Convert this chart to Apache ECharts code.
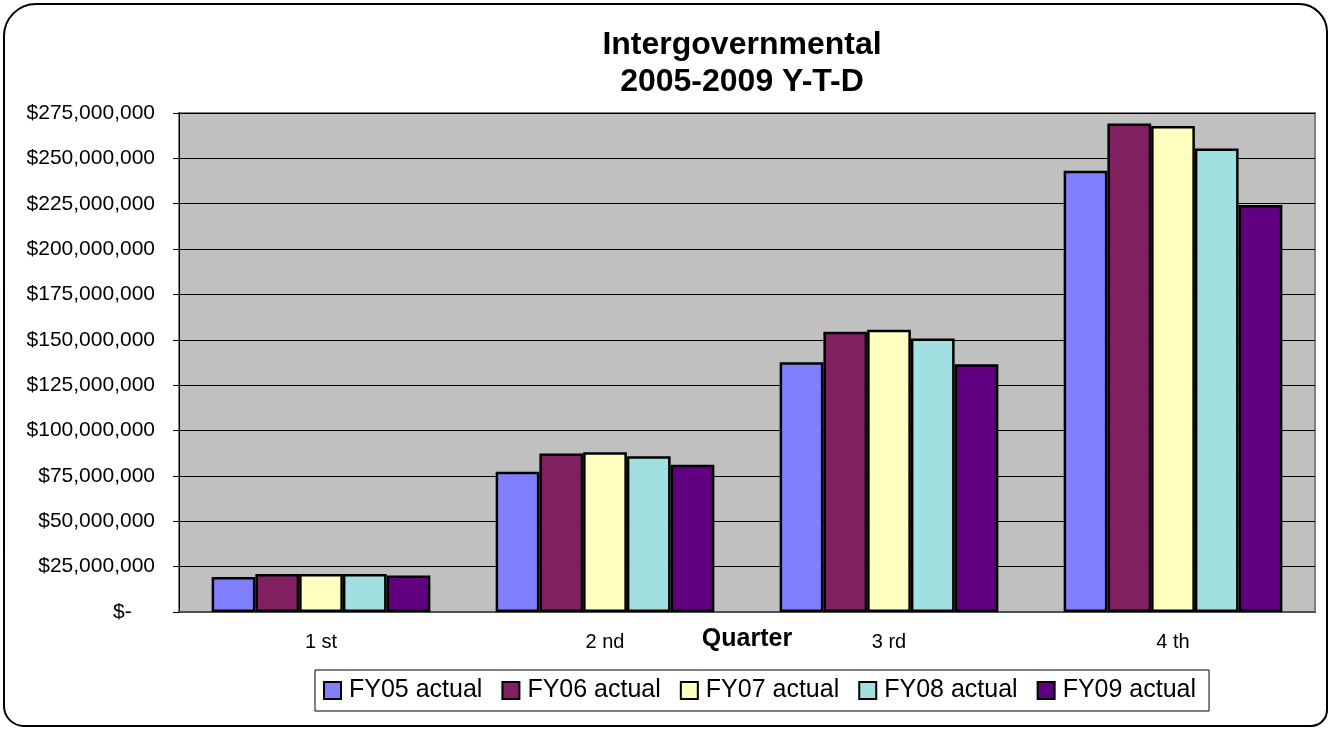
<!DOCTYPE html>
<html>
<head>
<meta charset="utf-8">
<title>Intergovernmental 2005-2009 Y-T-D</title>
<script src="https://cdn.jsdelivr.net/npm/echarts@6/dist/echarts.min.js"></script>
<style>
    html, body { margin: 0; padding: 0; background: #fff; }
    #db_chart { width: 1330px; height: 730px; }
</style>
</head>
<body>
<div id="db_chart"></div>
<script>
// quarters on the x axis
var quarters = ['1 st', '2 nd', '3 rd', '4 th'];
// legend names
var seriesNames = ['FY05 actual', 'FY06 actual', 'FY07 actual', 'FY08 actual', 'FY09 actual'];
// year-to-date values per quarter
var fy05 = [19300000, 77300000, 137600000, 243200000];
var fy06 = [21000000, 87400000, 154500000, 269200000];
var fy07 = [21000000, 88000000, 155600000, 267900000];
var fy08 = [21000000, 85900000, 150700000, 255500000];
var fy09 = [20100000, 81100000, 136500000, 224300000];
var yMin = 0, yMax = 275000000, yStep = 25000000;

var colorList = ['#8080FF', '#802060', '#FFFFC0', '#A0E0E0', '#600080'];
var FONT = 'Liberation Sans, Arial, sans-serif';

function money(v) {
    if (v === 0) {
        return '$-    ';
    }
    return '$' + String(v).replace(/\B(?=(\d{3})+(?!\d))/g, ',');
}

var leftEchart = function () {
    var db_chart = echarts.init(document.getElementById('db_chart'));
    var allData = [fy05, fy06, fy07, fy08, fy09];
    var series = [];
    for (var i = 0; i < seriesNames.length; i++) {
        series.push({
            name: seriesNames[i],
            type: 'bar',
            data: allData[i],
            barGap: '0%',
            barCategoryGap: '23%',
            itemStyle: {
                color: colorList[i],
                borderColor: '#000',
                borderWidth: 2.5
            }
        });
    }
    var option = {
        backgroundColor: '#fff',
        animation: false,
        textStyle: { fontFamily: FONT },
        title: {
            text: 'Intergovernmental\n2005-2009 Y-T-D',
            left: 737,
            top: 22,
            textAlign: 'center',
            textStyle: {
                fontFamily: FONT,
                fontSize: 32,
                fontWeight: 'bold',
                color: '#000',
                lineHeight: 37
            }
        },
        legend: {
            data: seriesNames,
            icon: 'rect',
            top: 670,
            left: 315,
            itemWidth: 17,
            itemHeight: 17,
            itemGap: 19,
            padding: [8, 13, 8, 8],
            borderColor: '#000',
            borderWidth: 1,
            backgroundColor: '#fff',
            textStyle: { fontFamily: FONT, fontSize: 25, color: '#000', padding: [0, 0, 0, 3] }
        },
        grid: {
            left: 179,
            right: 15,
            top: 113,
            bottom: 118,
            show: true,
            backgroundColor: '#C0C0C0',
            borderColor: '#808080',
            borderWidth: 2
        },
        xAxis: {
            type: 'category',
            data: quarters,
            name: 'Quarter',
            nameLocation: 'middle',
            nameGap: 15,
            nameMoveOverlap: false,
            nameTextStyle: { fontFamily: FONT, fontSize: 25, fontWeight: 'bold', color: '#000' },
            axisLine: { lineStyle: { color: '#505050', width: 2 } },
            axisTick: { length: 7, lineStyle: { color: '#000' } },
            axisLabel: { margin: 20, fontFamily: FONT, fontSize: 20, color: '#000' },
            splitLine: { show: false }
        },
        yAxis: {
            type: 'value',
            min: yMin,
            max: yMax,
            interval: yStep,
            axisLine: { show: true, lineStyle: { color: '#000', width: 1 } },
            axisTick: { show: true, length: 6, lineStyle: { color: '#000' } },
            axisLabel: { margin: 24, fontFamily: FONT, fontSize: 21, color: '#000', formatter: money },
            splitLine: { lineStyle: { color: '#000', width: 1 } }
        },
        graphic: [{
            type: 'rect',
            shape: { x: 4, y: 4, width: 1323, height: 722, r: [32, 28, 16, 20] },
            style: { fill: 'none', stroke: '#000', lineWidth: 2 },
            z: 100
        }],
        series: series
    };
    db_chart.setOption(option);
};
leftEchart();
</script>
</body>
</html>
